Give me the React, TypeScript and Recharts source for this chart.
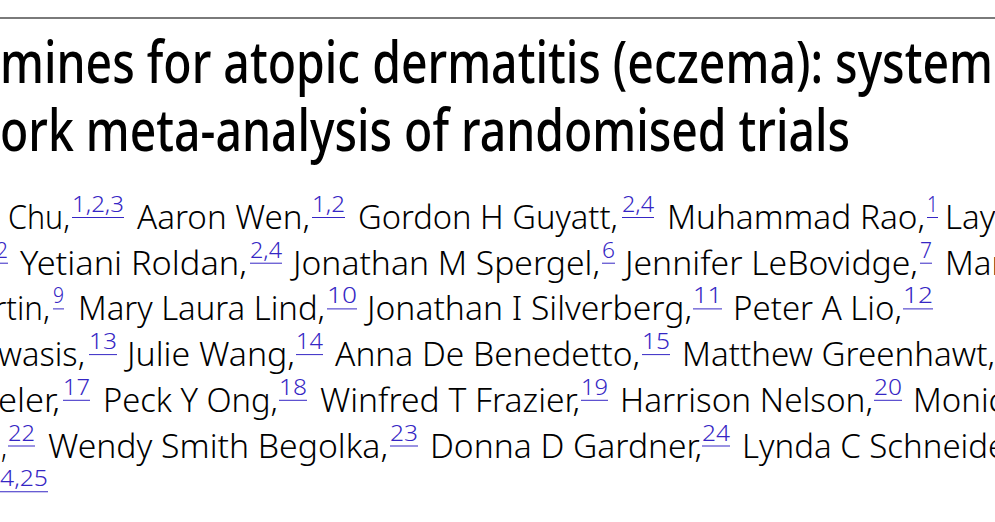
import React from 'react';
import { Surface, Layer, Text, Rectangle } from 'recharts';

// Visible title text (the page is cropped on the left and right)
const titleLines = ['mines for atopic dermatitis (eczema): system', 'ork meta-analysis of randomised trials'];

// Author rows: [name, affiliation superscript]
const authorRows: [string, string][][] = [
  [['Chu,', '1,2,3'], ['Aaron Wen,', '1,2'], ['Gordon H Guyatt,', '2,4'], ['Muhammad Rao,', '1'], ['Lay', '']],
  [['', '2'], ['Yetiani Roldan,', '2,4'], ['Jonathan M Spergel,', '6'], ['Jennifer LeBovidge,', '7'], ['Mar', '']],
  [['rtin,', '9'], ['Mary Laura Lind,', '10'], ['Jonathan I Silverberg,', '11'], ['Peter A Lio,', '12']],
  [['wasis,', '13'], ['Julie Wang,', '14'], ['Anna De Benedetto,', '15'], ['Matthew Greenhawt,', '']],
  [['eler,', '17'], ['Peck Y Ong,', '18'], ['Winfred T Frazier,', '19'], ['Harrison Nelson,', '20'], ['Monic', '']],
  [[',', '22'], ['Wendy Smith Begolka,', '23'], ['Donna D Gardner,', '24'], ['Lynda C Schneider', '']],
  [['', '4,25']],
];

// layout: [nameStart, nameEnd, supStart, supEnd]; null end = natural width
const rowLayout: (number | null)[][][] = [
  [[8, 70, 72, 124], [137, 310, 312, 345], [358, 618, 622, 654], [667, 925, 927, 938], [945, null]],
  [[0, 0, -4, 8], [20, 247, 250, 282], [293, 600, 602, 615], [625, 918, 920, 932], [945, null]],
  [[-6, 50, 53, 64], [78, 325, 327, 357], [367, 692, 693, 722], [733, 902, 903, 933]],
  [[-2, 85, 89, 117], [127, 295, 296, 323], [335, 640, 642, 670], [682, 995]],
  [[-2, 60, 63, 90], [103, 278, 279, 307], [320, 580, 581, 608], [620, 873, 874, 902], [913, null]],
  [[1, 7, 8, 35], [48, 388, 390, 418], [430, 702, 702, 730], [742, null]],
  [[0, 0, 0, 48]],
];

const W = 995;
const H = 522;
const FONT = '"Noto Sans", "Open Sans", sans-serif';
const LINK = '#3526c4';

export default function App() {
  const titleBase = [83, 151];
  const titleEnd = [993, 850];
  const rowBase = (i: number) => 229 + i * 45.7;

  return (
    <div style={{ position: 'absolute', left: 0, top: 0, width: W, height: H, background: '#fff', overflow: 'hidden' }}>
      <Surface width={W} height={H}>
        <Rectangle x={0} y={17} width={W} height={2} fill="#7a7a7a" />
        <Layer>
          {titleLines.map((t, i) => (
            <Text
              key={t}
              x={0}
              y={titleBase[i]}
              textAnchor="start"
              verticalAnchor="end"
              fontFamily={FONT}
              fontSize={58}
              fontWeight={500}
              fill="#000"
              textLength={titleEnd[i]}
              lengthAdjust="spacingAndGlyphs"
            >
              {t}
            </Text>
          ))}
        </Layer>
        <Layer>
          {authorRows.map((row, ri) =>
            row.map(([name, sup], si) => {
              const [n0, n1, s0, s1] = rowLayout[ri][si];
              const y = rowBase(ri);
              return (
                <g key={`${ri}-${si}`}>
                  {name && (
                    <Text
                      x={n0 as number}
                      y={y}
                      textAnchor="start"
                      verticalAnchor="end"
                      fontFamily={FONT}
                      fontSize={33}
                      fontWeight={300}
                      fill="#000"
                      {...(n1 != null ? { textLength: (n1 as number) - (n0 as number), lengthAdjust: 'spacingAndGlyphs' } : {})}
                    >
                      {name}
                    </Text>
                  )}
                  {sup && (
                    <>
                      <Text
                        x={s0 as number}
                        y={y - 17}
                        textAnchor="start"
                        verticalAnchor="end"
                        fontFamily={FONT}
                        fontSize={21}
                        fontWeight={300}
                        fill={LINK}
                        textLength={(s1 as number) - (s0 as number)}
                        lengthAdjust="spacingAndGlyphs"
                      >
                        {sup}
                      </Text>
                      <Rectangle x={s0 as number} y={y - 12} width={(s1 as number) - (s0 as number)} height={1} fill={LINK} />
                    </>
                  )}
                </g>
              );
            })
          )}
        </Layer>
      </Surface>
    </div>
  );
}
